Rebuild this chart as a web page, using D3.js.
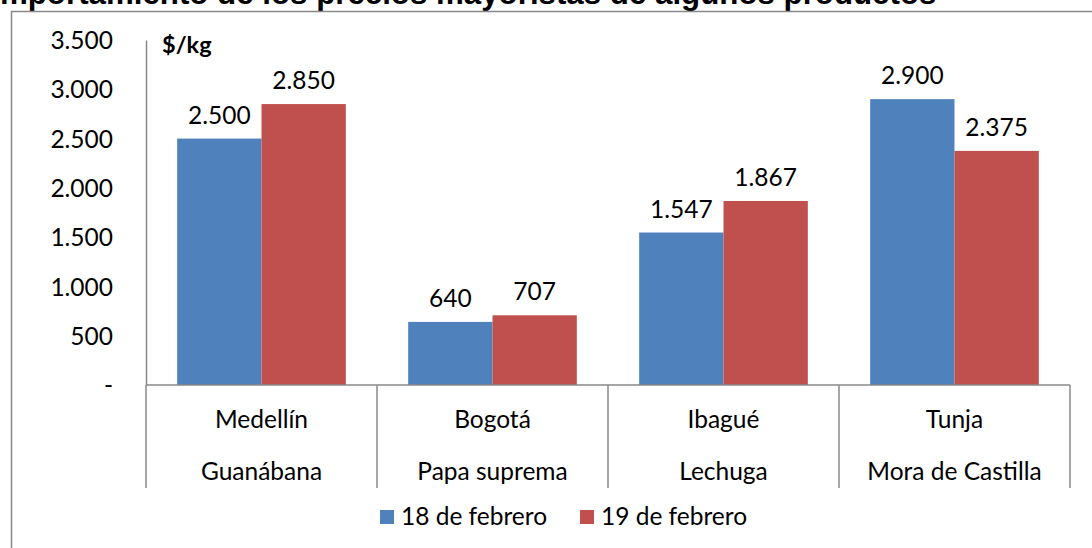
<!DOCTYPE html>
<html>
<head>
<meta charset="utf-8">
<script src="https://cdn.jsdelivr.net/npm/d3@7"></script>
<style>
  body { margin: 0; background: #fff; overflow: hidden; }
  svg { display: block; }
</style>
</head>
<body>
<div id="chart"></div>
<script>
// datos del gráfico
const ciudades = ["Medellín", "Bogotá", "Ibagué", "Tunja"];
const productos = ["Guanábana", "Papa suprema", "Lechuga", "Mora de Castilla"];
const series = ["18 de febrero", "19 de febrero"];
const valores18 = [2500, 640, 1547, 2900];
const valores19 = [2850, 707, 1867, 2375];
const ticksY = [0, 500, 1000, 1500, 2000, 2500, 3000, 3500];

const width = 1092, height = 548;
const colores = ["#4F81BD", "#C0504D"];
const gris = "#898989";
const fuente = "Lato, 'Open Sans', sans-serif";
const tam = 24.5;

const svg = d3.select("#chart").append("svg")
    .attr("width", width)
    .attr("height", height);

// título (cortado arriba como en la imagen)
const titulo = svg.append("text")
    .attr("font-family", "'Liberation Sans', Arial, sans-serif")
    .attr("font-weight", "bold")
    .attr("font-size", 27)
    .attr("y", 4)
    .text("Comportamiento de los precios mayoristas de algunos productos");
// ajustar para que "mportamiento..." empiece en x=0 y termine en x≈937
const tmp = svg.append("text")
    .attr("font-family", "'Liberation Sans', Arial, sans-serif")
    .attr("font-weight", "bold")
    .attr("font-size", 27)
    .text("Co");
const wCo = tmp.node().getComputedTextLength();
tmp.remove();
const wAll = titulo.node().getComputedTextLength();
const escala = 937 / (wAll - wCo);
titulo.attr("font-size", 27 * escala).attr("x", -wCo * escala);

// marco del área del gráfico
svg.append("rect")
    .attr("x", 11.5).attr("y", 11.5)
    .attr("width", 1100).attr("height", 560)
    .attr("fill", "none")
    .attr("stroke", gris)
    .attr("stroke-width", 1.5);

const x0 = 146, x1 = 1070, y0 = 385, yTop = 40;

const x = d3.scaleBand()
    .domain(ciudades)
    .range([x0, x1])
    .paddingInner(0.27)
    .paddingOuter(0.135);

const xs = d3.scaleBand()
    .domain(series)
    .range([0, x.bandwidth()]);

const y = d3.scaleLinear()
    .domain([0, 3500])
    .range([y0, yTop]);

const fmt = v => v === 0 ? "-" : d3.format(",")(v).replace(/,/g, ".");

// eje y
const ejeY = svg.append("g")
    .attr("transform", `translate(${x0},0)`)
    .call(d3.axisLeft(y).tickValues(ticksY).tickSize(0).tickPadding(33).tickFormat(fmt));
ejeY.select(".domain").attr("stroke", gris).attr("stroke-width", 1.5);
ejeY.selectAll("text")
    .attr("font-family", fuente)
    .attr("font-size", tam)
    .attr("fill", "#000")
    .attr("dy", "0.35em");

svg.append("text")
    .attr("x", 162).attr("y", 53)
    .attr("font-family", fuente)
    .attr("font-weight", "bold")
    .attr("font-size", tam - 1)
    .text("$/kg");

// barras
const datos = ciudades.map((c, i) => ({ ciudad: c, vals: [valores18[i], valores19[i]] }));
const grupos = svg.selectAll(".grupo")
    .data(datos)
    .enter().append("g")
    .attr("transform", d => `translate(${x(d.ciudad)},0)`);

grupos.selectAll("rect")
    .data(d => d.vals.map((v, j) => ({ serie: series[j], v, j })))
    .enter().append("rect")
    .attr("x", d => xs(d.serie))
    .attr("width", xs.bandwidth())
    .attr("y", d => y(d.v))
    .attr("height", d => y0 - y(d.v))
    .attr("fill", d => colores[d.j]);

grupos.selectAll(".etq")
    .data(d => d.vals.map((v, j) => ({ serie: series[j], v, j })))
    .enter().append("text")
    .attr("x", d => xs(d.serie) + xs.bandwidth() / 2)
    .attr("y", d => y(d.v) - 15)
    .attr("text-anchor", "middle")
    .attr("font-family", fuente)
    .attr("font-size", tam)
    .text(d => fmt(d.v));

// eje x con dos niveles
const paso = (x1 - x0) / ciudades.length;
const sep = d3.range(ciudades.length + 1).map(i => x0 + i * paso);
svg.append("line")
    .attr("x1", x0).attr("x2", x1)
    .attr("y1", y0).attr("y2", y0)
    .attr("stroke", gris).attr("stroke-width", 1.5);
svg.selectAll(".sep")
    .data(sep)
    .enter().append("line")
    .attr("x1", d => d).attr("x2", d => d)
    .attr("y1", y0).attr("y2", 488)
    .attr("stroke", gris).attr("stroke-width", 1.5);

svg.selectAll(".ciudad")
    .data(ciudades)
    .enter().append("text")
    .attr("x", d => x(d) + x.bandwidth() / 2)
    .attr("y", 428)
    .attr("text-anchor", "middle")
    .attr("font-family", fuente)
    .attr("font-size", tam)
    .text(d => d);

svg.selectAll(".producto")
    .data(productos)
    .enter().append("text")
    .attr("x", (d, i) => x(ciudades[i]) + x.bandwidth() / 2)
    .attr("y", 480)
    .attr("text-anchor", "middle")
    .attr("font-family", fuente)
    .attr("font-size", tam)
    .text(d => d);

// leyenda
const leyenda = svg.selectAll(".ley")
    .data(series)
    .enter().append("g")
    .attr("transform", (d, i) => `translate(${380 + i * 200},510)`);
leyenda.append("rect")
    .attr("width", 14).attr("height", 14)
    .attr("fill", (d, i) => colores[i]);
leyenda.append("text")
    .attr("x", 21).attr("y", 15)
    .attr("font-family", fuente)
    .attr("font-size", tam)
    .text(d => d);
</script>
</body>
</html>
